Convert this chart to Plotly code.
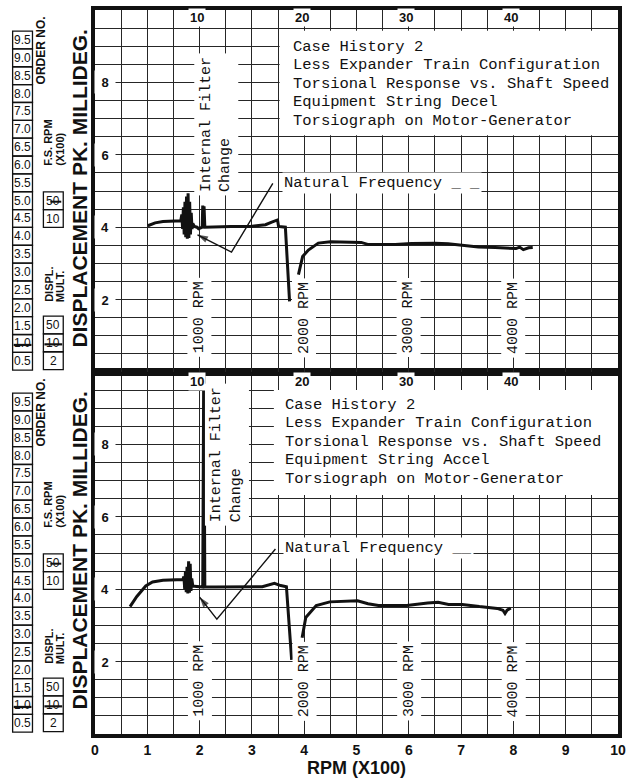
import plotly.graph_objects as go

# ------------------------------------------------------------------ data
# Top panel: Equipment String Decel (x = RPM x100 scale units, y = displacement)
top_rpm = [1.01, 1.15, 1.30, 1.45, 1.61, 1.64, 1.66, 1.675, 1.69, 1.705,
           1.72, 1.735, 1.75, 1.765, 1.78, 1.795, 1.81, 1.825, 1.84, 1.855,
           1.87, 1.90, 1.95, 1.98, 2.05, 2.06, 2.075, 2.085, 2.10, 2.30,
           2.60, 2.97, 3.10, 3.26, 3.38, 3.45, 3.49, 3.51, 3.64, 3.72,
           None, 3.89, 3.97, 4.08, 4.27, 4.50, 4.80, 5.09, 5.23, 5.48,
           5.74, 6.05, 6.50, 6.75, 7.00, 7.33, 7.65, 7.90, 8.05, 8.12,
           8.19, 8.29, 8.37]
top_disp = [4.04, 4.12, 4.16, 4.17, 4.18, 4.18, 4.35, 3.95, 4.55, 3.80,
            4.70, 3.72, 4.85, 3.68, 4.94, 3.70, 4.70, 3.80, 4.40, 3.95,
            4.10, 4.02, 4.00, 3.96, 4.00, 4.60, 4.00, 4.58, 4.00, 4.01,
            4.02, 4.02, 4.04, 4.07, 4.14, 4.19, 4.20, 4.02, 4.00, 1.95,
            None, 2.69, 3.19, 3.37, 3.56, 3.60, 3.60, 3.58, 3.52, 3.51,
            3.52, 3.55, 3.56, 3.54, 3.51, 3.45, 3.44, 3.43, 3.41, 3.45,
            3.38, 3.43, 3.44]

# Bottom panel: Equipment String Accel
bot_rpm = [0.67, 0.80, 0.97, 1.10, 1.30, 1.50, 1.68, 1.70, 1.715, 1.73,
           1.745, 1.76, 1.775, 1.79, 1.805, 1.82, 1.835, 1.85, 1.87, 1.90,
           2.00, 2.06, 2.08, 2.10, 2.30, 2.80, 3.20, 3.43, 3.55, 3.66,
           3.76, None, 3.96, 4.03, 4.23, 4.49, 5.02, 5.22, 5.42, 5.96,
           6.36, 6.56, 6.76, 7.02, 7.35, 7.55, 7.69, 7.80, 7.84, 7.88,
           7.95]
bot_disp = [3.52, 3.80, 4.09, 4.20, 4.25, 4.27, 4.27, 4.35, 4.00, 4.50,
            3.92, 4.62, 3.88, 4.77, 3.90, 4.70, 3.95, 4.30, 4.08, 4.08,
            4.06, 4.06, 10.5, 4.06, 4.06, 4.07, 4.07, 4.16, 4.10, 4.07,
            2.05, None, 2.66, 3.22, 3.55, 3.65, 3.68, 3.60, 3.55, 3.55,
            3.62, 3.64, 3.58, 3.58, 3.52, 3.50, 3.47, 3.42, 3.33, 3.42,
            3.48]

# "Natural Frequency" leader lines (V shape ending in an arrow)
nf_top_rpm = [3.40, 2.61, 1.96]
nf_top_disp = [5.21, 3.31, 3.79]
nf_bot_rpm = [3.45, 2.33, 2.00]
nf_bot_disp = [5.11, 3.17, 3.78]

x_ticks = [0, 1, 2, 3, 4, 5, 6, 7, 8, 9, 10]
x_tick_text = ["0", "1", "2", "3", "4", "5", "6", "7", "8", "9", "10"]
y_label_vals = [8, 6, 4, 2]
rpm_marks = [2, 4, 6, 8]
rpm_mark_text = ["1000 RPM", "2000 RPM", "3000 RPM", "4000 RPM"]
order_header = ["10", "20", "30", "40"]
order_nos = ["9.5", "9.0", "8.5", "8.0", "7.5", "7.0", "6.5", "6.0", "5.5", "5.0",
             "4.5", "4.0", "3.5", "3.0", "2.5", "2.0", "1.5", "1.0", "0.5"]
fs_rpm_box = ["50", "10"]
displ_mult_box = ["50", "10", "2"]
title_lines_top = ["Case History 2", "Less Expander Train Configuration",
                   "Torsional Response vs. Shaft Speed", "Equipment String Decel",
                   "Torsiograph on Motor-Generator"]
title_lines_bot = ["Case History 2", "Less Expander Train Configuration",
                   "Torsional Response vs. Shaft Speed", "Equipment String Accel",
                   "Torsiograph on Motor-Generator"]

# ------------------------------------------------------------------ style
INK = "#111111"
GRID = "#262626"
MONO = "Liberation Mono"
SANS = "Liberation Sans"

W, H = 628, 781
ML, MR, MT, MB = 95, 6, 10, 47
PW = W - ML - MR
PH = H - MT - MB


def px_x(px):
    return (px - ML) / PW


def px_y(py):
    return (H - MB - py) / PH


def paper_text(x, y, text, size, bold=False, angle=0, xanchor="center", yanchor="middle"):
    f = dict(family=SANS, size=size, color=INK)
    if bold:
        f["weight"] = "bold"
    return dict(xref="paper", yref="paper", x=px_x(x), y=px_y(y), text=text,
                showarrow=False, textangle=angle, xanchor=xanchor, yanchor=yanchor, font=f)


fig = go.Figure()

fig.add_trace(go.Scatter(x=top_rpm, y=top_disp, xaxis="x2", yaxis="y2", mode="lines",
                         line=dict(color=INK, width=3), connectgaps=False, hoverinfo="skip"))
fig.add_trace(go.Scatter(x=bot_rpm, y=bot_disp, xaxis="x", yaxis="y", mode="lines",
                         line=dict(color=INK, width=3), connectgaps=False, hoverinfo="skip"))
for xs, ys, xa, ya in [(nf_top_rpm, nf_top_disp, "x2", "y2"), (nf_bot_rpm, nf_bot_disp, "x", "y")]:
    fig.add_trace(go.Scatter(x=xs, y=ys, xaxis=xa, yaxis=ya, mode="lines+markers",
                             line=dict(color=INK, width=1.4),
                             marker=dict(symbol="arrow", size=[0, 0, 11], angleref="previous",
                                         color=INK, line=dict(width=0)),
                             hoverinfo="skip"))

grid_x = dict(range=[0, 10], showgrid=True, gridcolor=GRID, gridwidth=1.3, zeroline=False,
              showline=True, linecolor=INK, linewidth=4, mirror=True, ticks="",
              tickmode="array", tickvals=x_ticks, fixedrange=True,
              minor=dict(tickmode="linear", tick0=0, dtick=0.5, showgrid=True,
                         gridcolor=GRID, gridwidth=1.3))
grid_y = dict(range=[0, 10], showgrid=True, gridcolor=GRID, gridwidth=1.3, zeroline=False,
              showline=True, linecolor=INK, linewidth=4, mirror=True, ticks="",
              tickmode="linear", tick0=0, dtick=0.5, showticklabels=False, fixedrange=True)

fig.update_layout(
    width=W, height=H,
    margin=dict(l=ML, r=MR, t=MT, b=MB, pad=0),
    paper_bgcolor="white", plot_bgcolor="white", showlegend=False,
    xaxis=dict(grid_x, anchor="y", domain=[0, 1], ticktext=x_tick_text,
               tickfont=dict(family=SANS, size=14, color=INK, weight="bold"),
               title=dict(text="RPM (X100)", standoff=2,
                          font=dict(family=SANS, size=18, color=INK, weight="bold")),
               automargin=False),
    xaxis2=dict(grid_x, anchor="y2", domain=[0, 1], showticklabels=False),
    yaxis=dict(grid_y, anchor="x", domain=[0, 0.5]),
    yaxis2=dict(grid_y, anchor="x2", domain=[0.5, 1]),
)

shapes = []
annotations = []

# white paste-up boxes behind the typed titles
shapes.append(dict(type="rect", xref="x2", yref="y2", x0=3.53, x1=10, y0=6.54, y1=9.43,
                   fillcolor="white", line=dict(width=0), layer="between"))
shapes.append(dict(type="rect", xref="x", yref="y", x0=3.42, x1=10, y0=6.6, y1=9.5,
                   fillcolor="white", line=dict(width=0), layer="between"))

panels = [
    dict(xa="x2", ya="y2", off=0, lines=title_lines_top, tx=3.74, ty0=8.98,
         ifx=2.32, ify=4.86, nfx=3.57, nfy=5.22, nft="Natural Frequency _ _", hy=9.78, ry=1.5),
    dict(xa="x", ya="y", off=362, lines=title_lines_bot, tx=3.60, ty0=9.09,
         ifx=2.52, ify=5.75, nfx=3.59, nfy=5.14, nft="Natural Frequency __", hy=9.73, ry=1.46),
]

for p in panels:
    xa, ya, off = p["xa"], p["ya"], p["off"]
    # y labels in first column
    for v in y_label_vals:
        annotations.append(dict(xref=xa, yref=ya, x=0.2, y=v, text=str(v), showarrow=False,
                                font=dict(family=SANS, size=13, color=INK, weight="bold"),
                                bgcolor="white", width=18, height=20))
    # order header numbers
    for m, t in zip(rpm_marks, order_header):
        annotations.append(dict(xref=xa, yref=ya, x=m - 0.05, y=p["hy"], text=t, showarrow=False,
                                font=dict(family=SANS, size=13, color=INK, weight="bold"),
                                bgcolor="white", borderpad=1))
    # rpm marks
    for m, t in zip(rpm_marks, rpm_mark_text):
        annotations.append(dict(xref=xa, yref=ya, x=m, y=p["ry"], text=t, showarrow=False,
                                textangle=-90, font=dict(family=MONO, size=15, color=INK),
                                bgcolor="white", borderpad=3))
    # title lines
    for i, t in enumerate(p["lines"]):
        annotations.append(dict(xref=xa, yref=ya, x=p["tx"], y=p["ty0"] - i * 0.51, text=t,
                                showarrow=False, xanchor="left", yanchor="middle",
                                font=dict(family=MONO, size=15.5, color=INK)))
    # internal filter change
    annotations.append(dict(xref=xa, yref=ya, x=p["ifx"], y=p["ify"],
                            text="Internal Filter<br>Change", showarrow=False, textangle=-90,
                            align="left", xanchor="center", yanchor="bottom",
                            font=dict(family=MONO, size=15, color=INK),
                            bgcolor="white", borderpad=3))
    # natural frequency label
    annotations.append(dict(xref=xa, yref=ya, x=p["nfx"], y=p["nfy"], text=p["nft"],
                            showarrow=False, xanchor="left", yanchor="middle",
                            font=dict(family=MONO, size=15.5, color=INK),
                            bgcolor="white", borderpad=1))

    # ---------------- left margin chart-paper legend
    for i, lab in enumerate(order_nos):
        cy = 40 + i * 17.85 + off
        shapes.append(dict(type="rect", xref="paper", yref="paper",
                           x0=px_x(12), x1=px_x(32), y0=px_y(cy + 8.9), y1=px_y(cy - 8.9),
                           line=dict(color=INK, width=1.3)))
        annotations.append(paper_text(22, cy, lab, 12))
        if lab == "1.0":
            shapes.append(dict(type="line", xref="paper", yref="paper",
                               x0=px_x(13), x1=px_x(31), y0=px_y(cy + 1.5), y1=px_y(cy + 1.5),
                               line=dict(color=INK, width=2.2)))
    annotations.append(paper_text(41, 50 + off, "ORDER NO.", 12, bold=True, angle=-90))
    annotations.append(paper_text(47.5, 168 + off, "F.S. RPM", 11, bold=True, angle=-90,
                                  yanchor="bottom"))
    annotations.append(paper_text(59, 168 + off, "(X100)", 11, bold=True, angle=-90,
                                  yanchor="bottom"))
    annotations.append(paper_text(48, 304 + off, "DISPL.", 11, bold=True, angle=-90,
                                  yanchor="bottom"))
    annotations.append(paper_text(60, 304 + off, "MULT.", 11, bold=True, angle=-90,
                                  yanchor="bottom"))
    # F.S. RPM box
    for j, lab in enumerate(fs_rpm_box):
        cy = 200.7 + j * 17.85 + off
        shapes.append(dict(type="rect", xref="paper", yref="paper",
                           x0=px_x(43), x1=px_x(63), y0=px_y(cy + 8.9), y1=px_y(cy - 8.9),
                           line=dict(color=INK, width=1.3)))
        annotations.append(paper_text(53, cy, lab, 12))
        if j == 0:
            shapes.append(dict(type="line", xref="paper", yref="paper",
                               x0=px_x(50), x1=px_x(61), y0=px_y(cy + 1), y1=px_y(cy + 1),
                               line=dict(color=INK, width=2)))
    # DISPL. MULT. box
    for j, lab in enumerate(displ_mult_box):
        cy = 325 + j * 17.85 + off
        shapes.append(dict(type="rect", xref="paper", yref="paper",
                           x0=px_x(43), x1=px_x(63), y0=px_y(cy + 8.9), y1=px_y(cy - 8.9),
                           line=dict(color=INK, width=1.3)))
        annotations.append(paper_text(53, cy, lab, 12))
        if lab == "10":
            shapes.append(dict(type="line", xref="paper", yref="paper",
                               x0=px_x(44), x1=px_x(62), y0=px_y(cy + 1.5), y1=px_y(cy + 1.5),
                               line=dict(color=INK, width=2.2)))
    annotations.append(paper_text(79, 188.5 + off, "DISPLACEMENT PK. MILLIDEG.", 21,
                                  bold=True, angle=-90))

fig.update_layout(shapes=shapes, annotations=annotations)
fig.write_html("out.html")
